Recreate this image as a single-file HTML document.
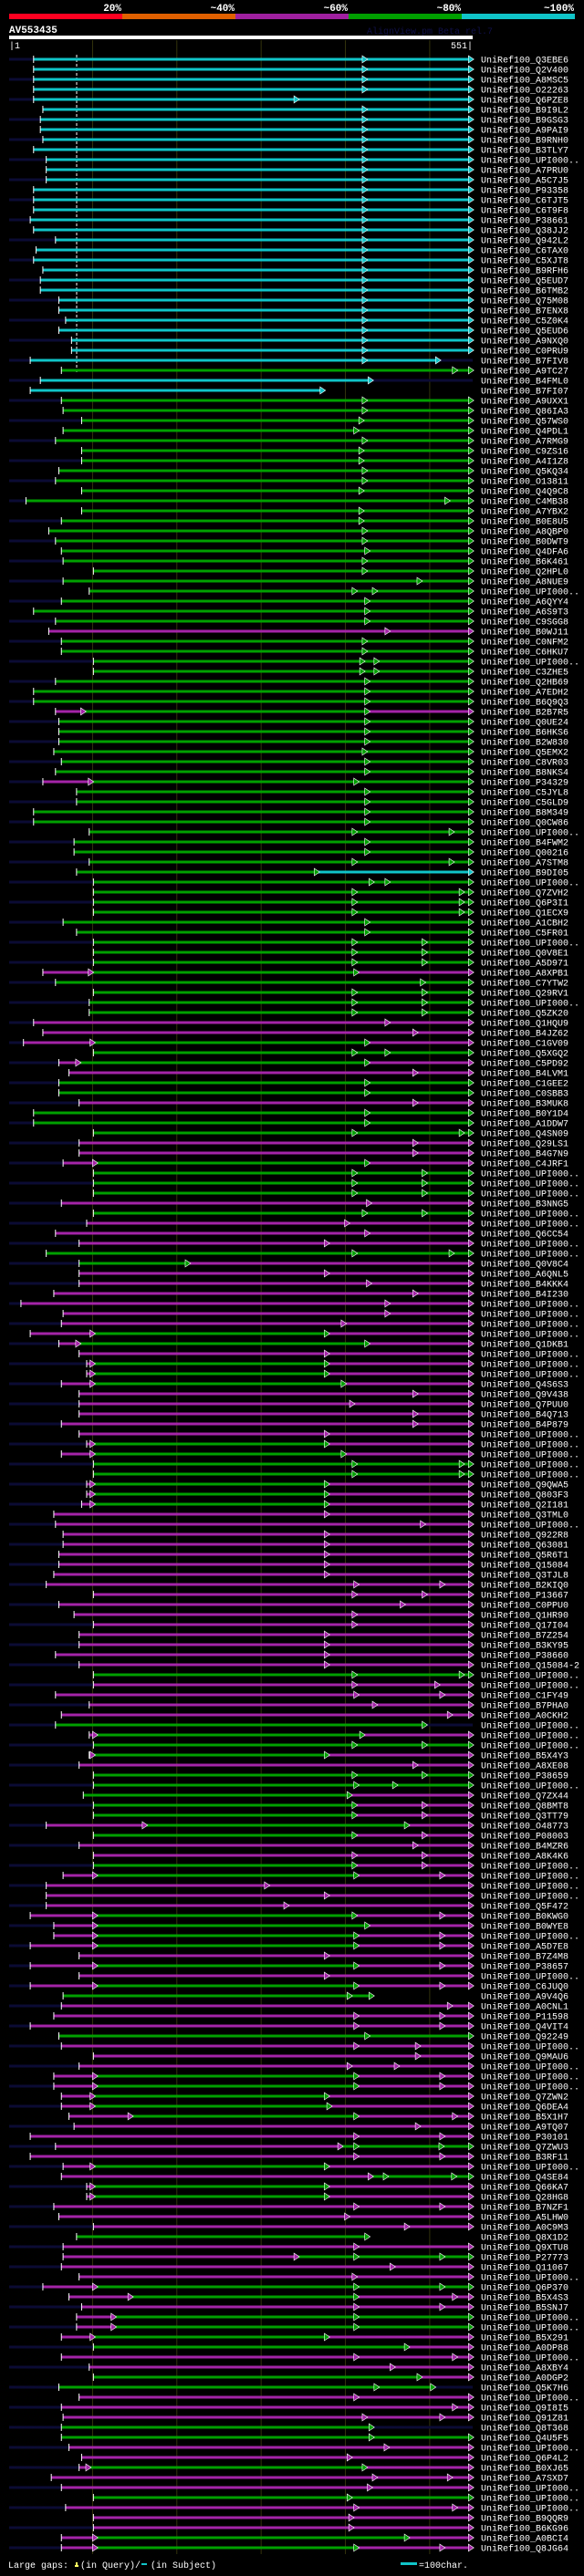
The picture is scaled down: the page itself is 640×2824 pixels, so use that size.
<!DOCTYPE html>
<html><head><meta charset="utf-8">
<style>
html,body{margin:0;padding:0;background:#000;}
body{width:640px;height:2819px;overflow:hidden;position:relative;font-family:"Liberation Mono",monospace;}
svg text{font-family:"Liberation Mono",monospace;}
</style></head>
<body>
<svg id="chart" width="640" height="2819" xmlns="http://www.w3.org/2000/svg">
  <g>
    <rect x="10" y="15" width="124" height="6" fill="#ff0020"/>
    <rect x="134" y="15" width="124" height="6" fill="#e06000"/>
    <rect x="258" y="15" width="124" height="6" fill="#a020a0"/>
    <rect x="382" y="15" width="124" height="6" fill="#00a000"/>
    <rect x="506" y="15" width="124" height="6" fill="#10c4c8"/>
    <g fill="#fff" font-size="11" font-weight="bold" text-anchor="end">
      <text x="133" y="12">20%</text>
      <text x="257" y="12">~40%</text>
      <text x="381" y="12">~60%</text>
      <text x="505" y="12">~80%</text>
      <text x="629" y="12">~100%</text>
    </g>
  </g>
  <text x="10" y="36" fill="#fff" font-size="11" font-weight="bold">AV553435</text>
  <text x="402" y="37" fill="#101048" font-size="10">AlignView.pm Beta rel.7</text>
  <rect x="10" y="39" width="508" height="4" fill="#fff"/>
  <text x="10" y="53" fill="#fff" font-size="10">|1</text>
  <text x="518" y="53" fill="#fff" font-size="10" text-anchor="end">551|</text>
  <g id="grid"></g>
  <line x1="84" y1="60" x2="84" y2="408" stroke="#fff" stroke-width="1" stroke-dasharray="3,2"/>
  <g id="rows"></g>
  <g>
    <text x="9" y="2815" fill="#fff" font-size="10">Large gaps:</text>
    <path d="M82 2814 h4 v-2 h-1 v-3 h-2 v3 h-1z" fill="#ffff60"/>
    <text x="88" y="2815" fill="#fff" font-size="10">(in Query)/</text>
    <rect x="155" y="2810" width="6" height="2" fill="#10c4c8"/>
    <text x="165" y="2815" fill="#fff" font-size="10">(in Subject)</text>
    <rect x="439" y="2809" width="18" height="3" fill="#10c4c8"/>
    <text x="459" y="2815" fill="#fff" font-size="10">=100char.</text>
  </g>
</svg>
<script>
const gridPositions = [100, 200, 300, 400, 500];
const rowLabels = ["Q3EBE6","Q2V400","A8MSC5","O22263","Q6PZE8","B9I9L2","B9GSG3","A9PAI9","B9RNH0","B3TLY7","UPI000..","A7PRU0","A5C7J5","P93358","C6TJT5","C6T9F8","P38661","Q38JJ2","Q942L2","C6TAX0","C5XJT8","B9RFH6","Q5EUD7","B6TMB2","Q75M08","B7ENX8","C5Z0K4","Q5EUD6","A9NXQ0","C0PRU9","B7FIV8","A9TC27","B4FML0","B7FI07","A9UXX1","Q86IA3","Q57WS0","Q4PDL1","A7RMG9","C9ZS16","A4I1Z8","Q5KQ34","O13811","Q4Q9C8","C4MB38","A7YBX2","B0E8U5","A8QBP0","B0DWT9","Q4DFA6","B6K461","Q2HPL0","A8NUE9","UPI000..","A6QYY4","A6S9T3","C9SGG8","B0WJ11","C0NFM2","C6HKU7","UPI000..","C3ZHE5",
"Q2HB69","A7EDH2","B6Q9Q3","B2B7R5","Q0UE24","B6HKS6","B2W830","Q5EMX2","C8VR03","B8NKS4","P34329","C5JYL8","C5GLD9","B8M349","Q0CW86","UPI000..","B4FWM2","Q00216","A7STM8","B9DI05","UPI000..","Q7ZVH2","Q6P3I1","Q1ECX9","A1CBH2","C5FR01","UPI000..","Q0V8E1","A5D971","A8XPB1","C7YTW2","Q29RV1","UPI000..","Q5ZK20","Q1HQU9","B4JZ62","C1GV09","Q5XGQ2","C5PD92","B4LVM1","C1GEE2","C0SBB3","B3MUK8","B0Y1D4","A1DDW7","Q4SN09","Q29LS1","B4G7N9","C4JRF1","UPI000..","UPI000..","UPI000..","B3NNG5","UPI000..","UPI000..","Q6CC54","UPI000..","UPI000..","Q0V8C4","A6QNL5","B4KKK4","B4I230",
"UPI000..","UPI000..","UPI000..","UPI000..","Q1DKB1","UPI000..","UPI000..","UPI000..","Q4S6S3","Q9V438","Q7PUU0","B4Q713","B4P879","UPI000..","UPI000..","UPI000..","UPI000..","UPI000..","Q9QWA5","Q803F3","Q2I181","Q3TML0","UPI000..","Q922R8","Q63081","Q5R6T1","Q15084","Q3TJL8","B2KIQ0","P13667","C0PPU0","Q1HR90","Q17I04","B7Z254","B3KY95","P38660","Q15084-2","UPI000..","UPI000..","C1FY49","B7PHA0","A0CKH2","UPI000..","UPI000..","UPI000..","B5X4Y3","A8XE08","P38659","UPI000..","Q7ZX44","Q8BMT8","Q3TT79","O48773","P08003","B4MZR6","A8K4K6","UPI000..","UPI000..","UPI000..","UPI000..","Q5F472","B0KWG0","B0WYE8",
"UPI000..","A5D7E8","B7Z4M8","P38657","UPI000..","C6JUQ0","A9V4Q6","A0CNL1","P11598","Q4VIT4","Q92249","UPI000..","Q9MAU6","UPI000..","UPI000..","UPI000..","Q7ZWN2","Q6DEA4","B5X1H7","A9TQ07","P30101","Q7ZWU3","B3RF11","UPI000..","Q4SE84","Q66KA7","Q28HG8","B7NZF1","A5LHW0","A0C9M3","Q8X1D2","Q9XTU8","P27773","Q11067","UPI000..","Q6P370","B5X4S3","B5SNJ7","UPI000..","UPI000..","B5X291","A0DP88","UPI000..","A8XBY4","A0DGP2","Q5K7H6","UPI000..","Q9I8I5","Q91Z81","Q8T368","Q4U5F5","UPI000..","Q6P4L2","B0XJ65","A7SXD7","UPI000..","UPI000..","UPI000..","B9QQR9","B6KG96","A0BCI4","Q8JG64"];
const rowStarts = [30,30,30,30,30,41,38,38,41,30,45,45,45,30,30,30,26,30,56,33,30,41,38,38,60,60,68,60,75,75,26,63,38,26,63,65,87,65,56,87,87,60,56,87,21,87,63,48,56,63,65,101,65,96,63,30,56,48,63,63,101,101,
56,30,30,56,60,60,60,54,63,56,41,81,81,30,30,96,78,78,96,81,101,101,101,101,65,81,101,101,101,41,56,101,96,96,30,41,18,101,60,72,60,60,84,30,30,101,84,84,65,101,101,101,63,101,93,56,84,45,84,84,84,54,
15,65,63,26,60,84,93,93,63,84,84,84,63,84,93,63,101,101,93,93,87,54,56,65,65,60,60,54,45,101,60,78,101,84,84,56,84,101,101,56,96,63,56,96,101,96,84,101,101,89,101,101,45,101,84,101,101,65,45,45,45,26,54,
54,26,84,26,84,26,65,63,54,26,60,63,101,84,54,54,63,63,72,78,26,56,26,65,63,93,93,54,60,101,81,65,65,63,84,41,72,87,81,81,63,101,63,96,101,60,84,63,65,63,63,72,87,84,51,63,101,68,101,101,63,63];
const rowSegments = ["c421 c547","c421 c547","c421 c547","c421 c547","c340 c547","c421 c547","c421 c547","c421 c547","c421 c547","c421 c547","c421 c547","c421 c547","c421 c547","c421 c547","c421 c547","c421 c547","c421 c547","c421 c547","c421 c547","c421 c547","c421 c547","c421 c547","c421 c547","c421 c547","c421 c547","c421 c547","c421 c547","c421 c547","c421 c547","c421 c547","c421 c508","g528 g547","c428","c371","g421 g547","g421 g547","g417 g547","g411 g547","g421 g547","g417 g547","g417 g547","g421 g547","g421 g547","g417 g547","g519 g547","g417 g547","g417 g547","g421 g547","g421 g547","g424 g547","g421 g547","g421 g547","g486 g547","g409 g433 g547","g424 g547","g424 g547","g424 g547","m448 m547","g421 g547","g421 g547","g418 g435 g547","g418 g435 g547",
"g424 g547","g424 g547","g424 g547","m87 g424 m547","g424 g547","g424 g547","g424 g547","g421 g547","g424 g547","g424 g547","m96 g411 g547","g424 g547","g424 g547","g424 g547","g424 g547","g409 g524 g547","g424 g547","g424 g547","g409 g524 g547","g364 c547","g429 g448 g547","g409 g536 g547","g409 g536 g547","g409 g536 g547","g424 g547","g424 g547","g409 g492 g547","g409 g492 g547","g409 g492 g547","m96 g411 m547","g490 g547","g409 g492 g547","g409 g492 g547","g409 g492 g547","m448 m547","m481 m547","m98 g424 m547","g409 g448 g547","m81 g424 m547","m481 m547","g424 g547","g424 g547","m481 m547","g424 g547","g424 g547","g409 g536 g547","m481 m547","m481 m547","m101 g424 m547","g409 g492 g547","g409 g492 g547","g409 g492 g547","m426 m547","g421 g492 g547","m400 m547","m424 m547","m376 m547","g409 g524 g547","g211 m547","m376 m547","m426 m547","m481 m547",
"m448 m547","m448 m547","m396 m547","m98 g376 m547","m81 g424 m547","m376 m547","m98 g376 m547","m98 g376 m547","m98 g396 m547","m481 m547","m406 m547","m481 m547","m481 m547","m376 m547","m98 g376 m547","m98 g396 m547","g409 g536 g547","g409 g536 g547","m98 g376 m547","m98 g376 m547","m98 g376 m547","m376 m547","m490 m547","m376 m547","m376 m547","m376 m547","m376 m547","m376 m547","m411 m513 m547","m409 m492 m547","m466 m547","m409 m547","m409 m547","m376 m547","m376 m547","m376 m547","m376 m547","g409 g536 g547","m409 m507 m547","m411 m513 m547","m433 m547","m522 m547","g492","m101 g418 m547","g409 g492 g547","m98 g376 m547","m481 m547","g409 g492 g547","g411 g457 g547","g403 m547","g409 m492 m547","g409 m492 m547","m160 g471 m547","g409 m492 m547","m481 m547","m409 m492 m547","g409 m492 m547","m101 g411 m513 m547","m305 m547","m376 m547","m328 m547","m101 g409 m513 m547","m101 g424 m547",
"m101 g411 m513 m547","m101 g411 m513 m547","m376 m547","m101 g411 m513 m547","m376 m547","m101 g411 m513 m547","g403 g429","m522 m547","m411 m513 m547","m411 m513 m547","g424 g547","m411 m484 m547","m484 m547","m403 m459 m547","m101 g411 m513 m547","m101 g411 m513 m547","m98 g376 m547","m98 g379 m547","m143 g411 m528 m547","m484 m547","m411 m513 m547","m392 g411 g512 g547","m411 m513 m547","m98 g376 m547","m428 g446 g527 g547","m98 g376 m547","m98 g376 m547","m411 m513 m547","m400 m547","m471 m547","g424","m411 m547","m340 g411 g513 g547","m454 m547","m409 m547","m101 g411 g513 g547","m143 g411 m528 m547","m411 m513 m547","m123 g411 g547","m123 g411 g547","m98 g376 m547","g471 m547","m411 m528 m547","m454 m547","g486 m547","g435 g502","m411 m547","m528 m547","m421 m513 m547","g429","g429 g547","m447 m547","m403 m547","m93 g421 m547","m433 m522 m547","m427 m547","g403 g547","m411 m528 m547","m405 m547","m405 m547","m101 g471 m547","m101 g411 m513 m547"];

const COLORS = {c:"#10c4c8", g:"#00a000", m:"#a424a8"};
const NS = "http://www.w3.org/2000/svg";
function xScale(pos){ return 10 + (pos - 1) * 508 / 550; }
function yScale(i){ return 65 + i * 11; }
function mk(tag, attrs, parent){
  const el = document.createElementNS(NS, tag);
  for (const k in attrs) el.setAttribute(k, attrs[k]);
  parent.appendChild(el);
  return el;
}
const grid = document.getElementById('grid');
gridPositions.forEach(p => {
  const l = mk('line', {x1:xScale(p), x2:xScale(p), y1:44, y2:2800, stroke:'#33330c', 'stroke-width':1}, grid);
  
  
});
const rowsG = document.getElementById('rows');
rowLabels.forEach((lab, i) => {
  const y = yScale(i);
  const g = mk('g', {}, rowsG);
  
  
  if (i % 2 === 0) {
    const bg = mk('rect', {x:10, y:y-1.5, width:508, height:3, fill:'#0b0b34'}, g);
    
    
  }
  let prev = rowStarts[i];
  const segs = rowSegments[i].split(' ');
  const arrows = [];
  segs.forEach(s => {
    const col = COLORS[s[0]];
    const end = +s.slice(1);
    const r = mk('rect', {x:xScale(prev), y:y-1.5, width:Math.max(0, xScale(end)-xScale(prev)), height:3, fill:col}, g);
    
    
    arrows.push([end, col]);
    prev = end;
  });
  arrows.forEach(a => {
    const ax = xScale(a[0]) - 1;
    const t = mk('polygon', {points:`${ax},${y-4} ${ax+6},${y} ${ax},${y+4}`, fill:a[1], stroke:'#fff', 'stroke-width':0.6}, g);
    
    
  });
  const sx = xScale(rowStarts[i]);
  const tick = mk('line', {x1:sx, x2:sx, y1:y-4, y2:y+4, stroke:'#fff', 'stroke-width':1}, g);
  
  
  const txt = mk('text', {x:527, y:y+3.5, fill:'#fff', 'font-size':10}, g);
  txt.textContent = 'UniRef100_' + lab;
  
  
});
</script>
</body></html>
